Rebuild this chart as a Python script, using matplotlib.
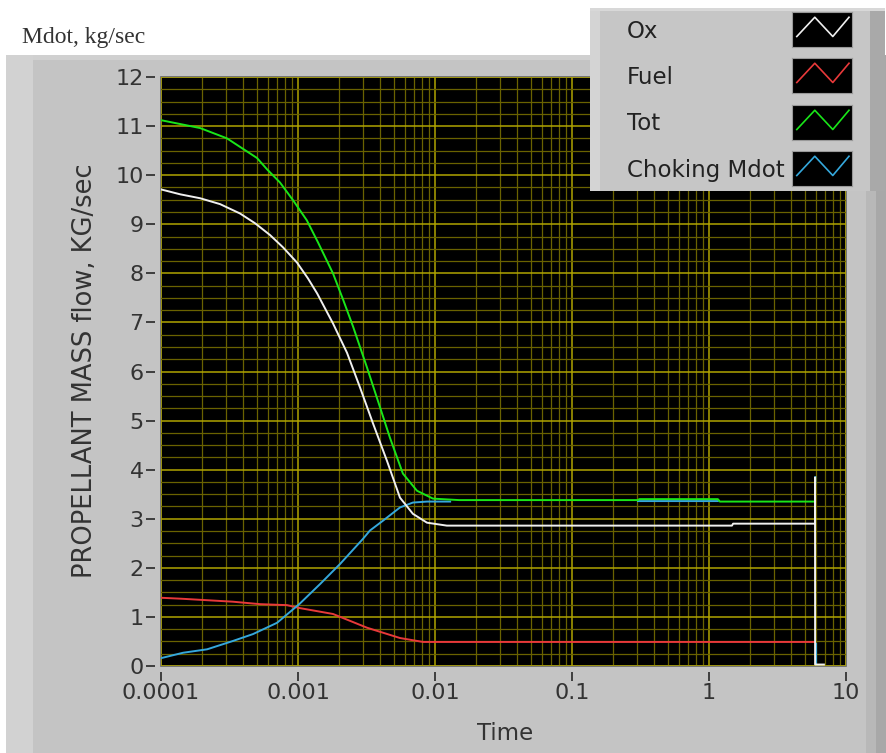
import numpy as np
import matplotlib
matplotlib.use("Agg")
import matplotlib.pyplot as plt
from matplotlib.patches import Rectangle
from matplotlib.ticker import LogLocator, MultipleLocator, NullFormatter

# data (time in s, mass flow in kg/s)
tot_t = [1e-4, 1.93e-4, 3.03e-4, 5.02e-4, 5.94e-4, 7.39e-4, 9.2e-4, 1.16e-3, 1.40e-3,
         1.80e-3, 2.13e-3, 2.52e-3, 3.19e-3, 3.97e-3, 4.69e-3, 5.83e-3, 7.39e-3, 9.67e-3,
         1.5e-2, 0.303, 0.31, 1.16, 1.2, 5.94]
tot_v = [11.12, 10.96, 10.75, 10.35, 10.12, 9.85, 9.49, 9.08, 8.63,
         8.0, 7.47, 6.92, 6.08, 5.27, 4.65, 3.92, 3.57, 3.41,
         3.38, 3.38, 3.40, 3.40, 3.35, 3.35]

ox_t = [1e-4, 1.38e-4, 1.93e-4, 2.70e-4, 3.77e-4, 4.86e-4, 6.25e-4, 7.77e-4, 9.83e-4,
        1.18e-3, 1.38e-3, 1.80e-3, 2.28e-3, 2.84e-3, 3.53e-3, 4.46e-3, 5.55e-3, 6.9e-3,
        8.74e-3, 1.22e-2, 1.47, 1.5, 5.94, 5.94, 5.95, 6.9]
ox_v = [9.71, 9.61, 9.53, 9.41, 9.22, 9.02, 8.78, 8.53, 8.22,
        7.9, 7.59, 6.98, 6.38, 5.67, 4.94, 4.18, 3.43, 3.1,
        2.92, 2.86, 2.86, 2.9, 2.9, 3.84, 0.03, 0.03]

fuel_t = [1e-4, 1.42e-4, 3.35e-4, 5.28e-4, 8.31e-4, 1.03e-3, 1.80e-3, 3.19e-3, 5.55e-3,
          8.17e-3, 1.29e-2, 5.94]
fuel_v = [1.39, 1.37, 1.31, 1.26, 1.24, 1.18, 1.06, 0.78, 0.57,
          0.49, 0.49, 0.49]

chok_t = [1e-4, 1.45e-4, 2.17e-4, 3.35e-4, 4.69e-4, 7.03e-4, 8.31e-4, 1.03e-3, 1.45e-3,
          2.03e-3, 2.98e-3, 3.35e-3, 4.17e-3, 5.55e-3, 6.9e-3, 8.74e-3, 1.29e-2, np.nan,
          0.303, 1.16, np.nan, 5.97, 5.97, np.nan, 6.05, 6.05]
chok_v = [0.16, 0.27, 0.34, 0.51, 0.65, 0.88, 1.05, 1.27, 1.67,
          2.08, 2.59, 2.76, 2.96, 3.23, 3.33, 3.35, 3.35, np.nan,
          3.36, 3.36, np.nan, 3.85, 3.72, np.nan, 0.45, 0.04]

x_ticks = [1e-4, 1e-3, 1e-2, 1e-1, 1, 10]
x_labels = ["0.0001", "0.001", "0.01", "0.1", "1", "10"]
y_ticks = list(range(0, 13))

series = [("Ox", "#f0f0f0"), ("Fuel", "#e8393a"), ("Tot", "#19e619"), ("Choking Mdot", "#35a8dc")]

W, H = 886, 753
fig = plt.figure(figsize=(W / 100, H / 100), dpi=100)
fig.patch.set_facecolor("white")


def box(x0, y0, x1, y1, color, z=-1):
    # rectangle in pixel coords (y measured from top)
    fig.patches.append(Rectangle((x0 / W, 1 - y1 / H), (x1 - x0) / W, (y1 - y0) / H,
                                 transform=fig.transFigure, facecolor=color,
                                 edgecolor="none", zorder=z))


# gray panel behind the graph
box(6, 55, 886, 753, "#c4c4c4")
box(6, 55, 886, 60, "#d0d0d0")
box(6, 55, 33, 753, "#d2d2d2")
box(866, 55, 876, 753, "#b8b8b8")
box(876, 55, 886, 753, "#a8a8a8")
fig.text(22 / W, 1 - 38 / H, "Mdot, kg/sec", family="Liberation Serif", fontsize=17,
         color="#333333", va="center", ha="left")

ax = fig.add_axes([161 / W, 1 - 666 / H, (846 - 161) / W, (666 - 77) / H], zorder=1)
ax.set_facecolor("black")
ax.set_xscale("log")
ax.set_xlim(1e-4, 10)
ax.set_ylim(0, 12)

ax.xaxis.set_minor_locator(LogLocator(base=10, subs=np.arange(2, 10)))
ax.xaxis.set_minor_formatter(NullFormatter())
ax.yaxis.set_minor_locator(MultipleLocator(0.25))
ax.grid(True, which="major", color="#b0a400", lw=1.1)
ax.grid(True, which="minor", color="#6a6200", lw=0.9)
ax.set_axisbelow(True)

ax.set_xticks(x_ticks)
ax.set_xticklabels(x_labels)
ax.set_yticks(y_ticks)
ax.tick_params(which="major", length=6.5, width=1.3, color="#333333", labelsize=16,
               labelcolor="#333333", pad=2)
ax.tick_params(which="minor", length=0)

# ticks sit a few pixels away from the plot frame, frame drawn separately
ax.spines["left"].set_position(("outward", 4))
ax.spines["bottom"].set_position(("outward", 4))
for s in ax.spines.values():
    s.set_visible(False)
ax.patch.set_edgecolor("#666666")
ax.patch.set_linewidth(1.2)

ax.plot(fuel_t, fuel_v, color=series[1][1], lw=1.4, zorder=3)
ax.plot(chok_t, chok_v, color=series[3][1], lw=1.4, zorder=3)
ax.plot(tot_t, tot_v, color=series[2][1], lw=1.4, zorder=4)
ax.plot(ox_t, ox_v, color=series[0][1], lw=1.4, zorder=5)

fig.text(505 / W, 1 - 734 / H, "Time", fontsize=16.5, color="#333333", ha="center", va="center")
fig.text(85 / W, 1 - 371 / H, "PROPELLANT MASS flow, KG/sec", fontsize=18.5, color="#333333",
         rotation=90, ha="center", va="center")

# legend panel, drawn like the LabVIEW plot legend
box(590, 8, 885, 191, "#c6c6c6", z=5)
box(590, 8, 600, 191, "#d4d4d4", z=5)
box(870, 8, 885, 191, "#a9a9a9", z=5)
box(590, 8, 885, 11, "#d8d8d8", z=5)
sw_top = [12, 58, 105, 151]
for (name, col), top in zip(series, sw_top):
    fig.text(627 / W, 1 - (top + 19) / H, name, fontsize=16.5, color="#222222",
             va="center", ha="left", zorder=6)
    sax = fig.add_axes([792 / W, 1 - (top + 35) / H, 60 / W, 35 / H], zorder=7)
    sax.set_facecolor("black")
    sax.plot([0.08, 0.38, 0.68, 0.95], [0.3, 0.85, 0.3, 0.85], color=col, lw=1.2)
    sax.set_xlim(0, 1)
    sax.set_ylim(0, 1)
    sax.set_xticks([])
    sax.set_yticks([])
    for s in sax.spines.values():
        s.set_color("#999999")

fig.savefig("out.png", dpi=100)
